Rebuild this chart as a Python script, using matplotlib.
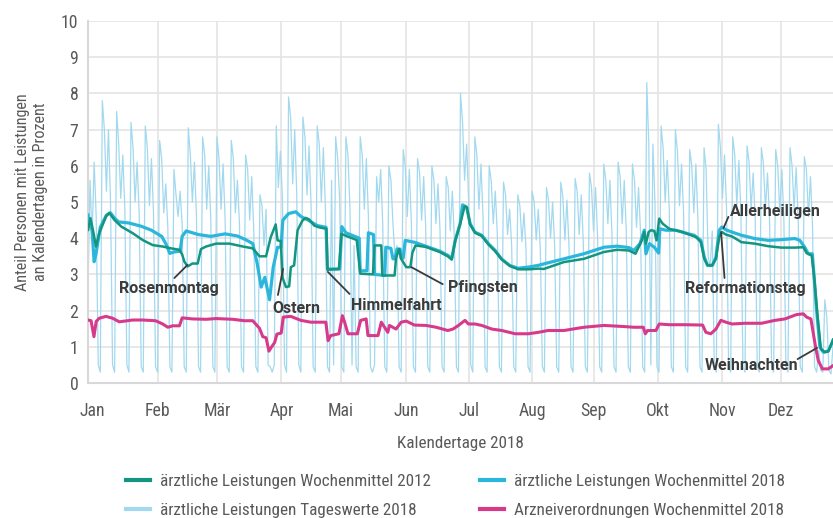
import matplotlib
matplotlib.use("Agg")
import matplotlib.pyplot as plt
from matplotlib import font_manager
import numpy as np

# fonts: pick a narrow face for axis text if one is installed
names = {f.name for f in font_manager.fontManager.ttflist}
base_font = "DejaVu Sans"
for cand in ["Liberation Sans Narrow", "Roboto Condensed", "Roboto", "Lato"]:
    if cand in names:
        base_font = cand
        break
bold_font = "Roboto" if "Roboto" in names else "DejaVu Sans"
plt.rcParams["font.family"] = [base_font, "DejaVu Sans"]

# region Data

# daily values 2018, one row per week (Mon..Sun), Jan 1 = Monday
daily_weeks = [
    [2.6, 5.6, 4.0, 6.1, 4.6, 0.5, 0.3],
    [7.8, 7.0, 5.3, 7.0, 5.0, 0.5, 0.3],
    [7.5, 6.6, 5.1, 6.3, 4.8, 0.5, 0.3],
    [7.2, 6.5, 5.0, 6.1, 4.7, 0.45, 0.3],
    [7.1, 6.5, 4.9, 6.2, 4.7, 0.45, 0.3],
    [6.7, 6.2, 4.7, 5.5, 4.3, 0.45, 0.3],
    [5.9, 5.2, 4.6, 5.3, 4.4, 0.45, 0.3],
    [7.05, 6.3, 5.0, 6.1, 4.6, 0.45, 0.3],
    [6.8, 6.3, 4.8, 6.0, 4.5, 0.45, 0.3],
    [6.8, 6.2, 4.8, 6.05, 4.5, 0.45, 0.3],
    [6.7, 6.2, 4.7, 5.6, 4.4, 0.45, 0.3],
    [6.3, 5.9, 4.5, 5.7, 4.2, 0.45, 0.3],
    [5.2, 4.9, 3.8, 4.8, 0.5, 0.45, 0.3],
    [0.5, 7.1, 5.4, 6.4, 5.1, 0.5, 0.3],
    [7.9, 7.35, 5.5, 7.0, 5.2, 0.5, 0.3],
    [7.35, 6.8, 5.2, 6.55, 4.9, 0.45, 0.3],
    [7.1, 6.6, 5.0, 6.5, 4.8, 0.45, 0.3],
    [5.6, 0.5, 6.8, 6.2, 5.0, 0.45, 0.3],
    [6.8, 6.3, 4.8, 0.5, 3.8, 0.45, 0.3],
    [6.8, 6.3, 4.8, 6.2, 4.6, 0.45, 0.3],
    [0.5, 5.7, 5.0, 5.9, 4.4, 0.45, 0.3],
    [6.0, 5.6, 4.4, 3.5, 3.8, 0.45, 0.3],
    [6.45, 6.0, 4.6, 5.9, 4.4, 0.45, 0.3],
    [6.2, 5.8, 4.5, 5.7, 4.3, 0.45, 0.3],
    [6.0, 5.6, 4.4, 5.5, 4.2, 0.45, 0.3],
    [5.7, 5.4, 4.2, 5.3, 4.0, 0.45, 0.3],
    [8.0, 7.2, 5.6, 6.6, 5.0, 0.5, 0.3],
    [6.8, 6.3, 4.8, 6.05, 4.6, 0.45, 0.3],
    [6.0, 5.6, 4.4, 5.3, 4.1, 0.45, 0.3],
    [5.55, 5.2, 4.1, 4.8, 3.8, 0.45, 0.3],
    [5.2, 4.9, 3.9, 4.7, 3.7, 0.45, 0.3],
    [5.3, 5.0, 3.95, 4.8, 3.7, 0.45, 0.3],
    [5.4, 5.05, 4.0, 5.0, 3.8, 0.45, 0.3],
    [5.55, 5.15, 3.95, 5.05, 3.8, 0.45, 0.3],
    [5.65, 5.3, 4.1, 5.2, 3.9, 0.45, 0.3],
    [5.8, 5.4, 4.2, 5.4, 4.0, 0.45, 0.3],
    [6.05, 5.6, 4.4, 5.6, 4.1, 0.45, 0.3],
    [6.1, 5.7, 4.4, 5.6, 4.2, 0.45, 0.3],
    [6.05, 5.6, 4.3, 5.4, 4.1, 0.45, 0.3],
    [8.3, 6.6, 0.5, 6.6, 5.0, 0.45, 0.3],
    [7.1, 6.5, 5.0, 6.15, 4.8, 0.45, 0.3],
    [7.0, 6.4, 4.9, 6.05, 4.7, 0.45, 0.3],
    [6.45, 6.0, 4.7, 6.05, 4.5, 0.45, 0.3],
    [6.5, 5.9, 3.5, 3.2, 4.2, 0.45, 0.3],
    [7.15, 6.5, 5.1, 6.3, 4.8, 0.45, 0.3],
    [6.8, 6.3, 4.9, 6.15, 4.7, 0.45, 0.3],
    [6.55, 6.1, 4.8, 5.8, 4.5, 0.45, 0.3],
    [6.5, 6.05, 4.8, 5.8, 4.5, 0.45, 0.3],
    [6.45, 6.0, 4.7, 5.9, 4.5, 0.45, 0.3],
    [6.5, 6.0, 4.8, 5.95, 4.5, 0.45, 0.3],
    [6.25, 5.9, 4.6, 5.7, 4.3, 0.45, 0.3],
    [0.9, 0.35, 0.3, 2.3, 1.8, 0.35, 0.25],
    [1.0],
]

# weekly means (day of year, value)
w2012_days = [0, 1.2, 2.5, 3.9, 5.5, 8.8, 10.4, 13, 16.3, 21.8, 26.7, 31.6, 36.5, 40.6, 44.7,
              46, 47.1, 48.7, 51, 53.6, 55.2, 57.7, 62.6, 69.1, 75.7, 80.5, 83.8, 87, 89.3,
              91.7, 92.6, 94.2, 95, 96.7, 98.3, 99.1, 100.7, 102.4, 104.8, 106.4, 108, 110.5,
              112.9, 116.5, 117, 122.6, 123.8, 126.7, 131.3, 133, 139.2, 140, 143.3, 143.8,
              149.8, 150.5, 152, 153, 155.5, 157.5, 158.5, 160, 165, 171.8, 175.8, 177.7,
              179.4, 181.8, 184, 185.1, 186.7, 189.1, 192.4, 195.6, 198.9, 202.2, 206.2,
              210.3, 215.2, 220.1, 222.7, 232.5, 242.3, 252.1, 258.6, 264.3, 267.5, 270.6,
              271.8, 272.6, 273.9, 275.1, 276.7, 277.8, 279.1, 280.8, 284, 290.5, 297.1,
              299.5, 301.1, 302.7, 304.9, 306.8, 308.4, 309.7, 311.7, 314.6, 319.3, 325.8,
              332.3, 338.8, 345.4, 349.5, 351.1, 353.6, 354.8, 356.5, 358.1, 360.1, 361.7,
              363.6, 364]
w2012_vals = [4.23, 4.55, 4.2, 3.77, 4.14, 4.6, 4.7, 4.5, 4.32, 4.14, 3.95, 3.81, 3.77, 3.72, 3.68,
              3.55, 3.35, 3.22, 3.3, 3.3, 3.7, 3.77, 3.85, 3.85, 3.77, 3.72, 3.5, 3.5, 4.03,
              4.38, 3.94, 3.92, 2.92, 2.65, 2.67, 3.2, 3.25, 4.22, 4.49, 4.56, 4.52, 4.35,
              4.3, 4.26, 3.13, 3.15, 4.12, 4.05, 3.95, 3.02, 3.0, 3.8, 3.8, 2.97,
              2.97, 3.45, 3.7, 3.43, 3.2, 3.2, 3.6, 3.8, 3.76, 3.62, 3.5, 3.41,
              3.92, 4.38, 4.88, 4.85, 4.38, 4.15, 4.06, 3.83, 3.64, 3.41, 3.23,
              3.14, 3.14, 3.16, 3.15, 3.34, 3.43, 3.62, 3.68, 3.66, 3.57, 3.94,
              4.17, 3.85, 4.17, 4.22, 4.2, 3.94, 4.54, 4.4, 4.26, 4.17, 4.03,
              3.89, 3.43, 3.25, 3.25, 3.43, 4.03, 4.17, 4.1, 4.05, 3.89, 3.85,
              3.78, 3.74, 3.74, 3.75, 3.59, 3.52, 2.92, 1.82, 0.94, 0.85, 0.87,
              1.13, 1.2]

w2018_days = [0, 2, 3, 4, 6, 9, 11, 13, 15, 20, 26, 31, 36, 38, 40, 42, 45, 46, 48, 54, 60, 67,
              73, 77, 80.5, 82.7, 84.6, 86.4, 88.7, 90.5, 92.6, 94.3, 95.2, 98, 101.5, 104,
              107.5, 112, 116.3, 117, 123, 124, 126, 132.5, 133, 136.3, 137, 139.5, 140, 145,
              145.5, 148, 149, 150, 151, 152.5, 153, 154, 155, 160, 165, 172, 176, 177.7,
              179.4, 181.8, 183, 185, 186.7, 189, 192.4, 195.6, 199, 202, 206, 210, 215, 220,
              222.7, 232.5, 242.3, 252.1, 258.6, 264.3, 266.7, 269.7, 271.8, 272.6, 274.3,
              276.7, 278.8, 279.4, 282.4, 287.2, 292.1, 296.2, 299.4, 301.1, 302.7, 305.1,
              306.8, 308.4, 309.7, 311.7, 314.6, 319.3, 325.8, 332.3, 338.8, 345.4, 347.8,
              350.3, 351.9, 353.9, 354.8, 356, 357.6, 359.3, 361.7, 363.3, 364]
w2018_vals = [4.64, 4.2, 3.35, 3.6, 4.3, 4.64, 4.7, 4.55, 4.45, 4.42, 4.33, 4.22, 4.05, 3.85,
              3.58, 3.62, 3.64, 4.05, 4.2, 4.1, 4.05, 4.12, 4.06, 3.96, 3.85, 3.29, 2.65, 2.92,
              2.3, 3.2, 3.75, 3.75, 4.5, 4.68, 4.73, 4.6, 4.5, 4.35, 4.3, 3.15, 3.15, 4.32,
              4.15, 4.0, 3.1, 3.1, 4.15, 4.1, 3.0, 2.97, 3.75, 3.72, 3.43, 3.43, 3.7, 3.7,
              3.45, 3.45, 3.94, 3.88, 3.78, 3.64, 3.52, 3.43, 3.94, 4.4, 4.92, 4.86, 4.4,
              4.17, 4.08, 3.85, 3.66, 3.43, 3.25, 3.17, 3.2, 3.25, 3.29, 3.43, 3.57, 3.75,
              3.78, 3.74, 3.66, 3.85, 4.22, 3.57, 3.85, 3.75, 3.59, 4.26, 4.22, 4.22, 4.14,
              4.08, 3.94, 3.48, 3.25, 3.25, 3.48, 4.22, 4.31, 4.23, 4.17, 4.08, 3.99, 3.94,
              3.96, 3.99, 3.94, 3.74, 3.57, 3.57, 2.92, 2.0, 0.99, 0.85, 0.89, 1.08, 1.17]

arznei_days = [0, 1.5, 2.9, 4, 5.5, 8.8, 12, 15.3, 21.8, 26.7, 33, 36.5, 39, 41.4, 44.7, 46, 51,
               57.7, 62.6, 70.7, 76.5, 80.5, 83.8, 85.4, 87, 88.4, 89.5, 91.2, 92.3, 94.4, 95.4,
               99.1, 104, 108.9, 116.2, 117.3, 118.6, 122.6, 124.3, 125.4, 127, 131.6, 133.2,
               135.9, 136.8, 141.7, 143.3, 144.9, 146.5, 147.3, 150.5, 153, 155.5, 159.5, 165.2,
               170.1, 175.8, 178.3, 181, 184.2, 185.9, 189.1, 192.4, 197.3, 202.2, 208.7, 215.2,
               220.1, 224.7, 232.5, 242.3, 252.1, 261.8, 266.7, 270.2, 271.3, 272.3, 273.4,
               277.5, 279.1, 284, 292.1, 300.3, 301.9, 304.3, 306.8, 309.2, 311.7, 314.6, 321,
               329.1, 335.6, 340.5, 346.2, 349.5, 351.1, 353.2, 355.5, 356.8, 358.8, 361.7, 364]
arznei_vals = [1.74, 1.72, 1.28, 1.7, 1.79, 1.84, 1.79, 1.69, 1.74, 1.74, 1.72, 1.63, 1.54, 1.58,
               1.58, 1.8, 1.77, 1.76, 1.78, 1.76, 1.72, 1.72, 1.51, 1.28, 1.25, 0.88, 0.98, 1.12,
               1.35, 1.38, 1.82, 1.84, 1.73, 1.68, 1.68, 1.17, 1.31, 1.36, 1.86, 1.68, 1.36,
               1.36, 1.73, 1.77, 1.31, 1.31, 1.68, 1.54, 1.4, 1.59, 1.49, 1.68, 1.71, 1.6,
               1.59, 1.54, 1.45, 1.49, 1.59, 1.73, 1.63, 1.63, 1.59, 1.49, 1.45, 1.36, 1.36,
               1.4, 1.45, 1.45, 1.54, 1.59, 1.56, 1.54, 1.54, 1.54, 1.36, 1.45, 1.45, 1.63,
               1.61, 1.61, 1.6, 1.4, 1.36, 1.49, 1.73, 1.68, 1.63, 1.65, 1.65, 1.73, 1.77,
               1.89, 1.91, 1.82, 1.77, 0.99, 0.62, 0.39, 0.39, 0.48]

month_labels = ["Jan", "Feb", "Mär", "Apr", "Mai", "Jun", "Jul", "Aug", "Sep", "Okt", "Nov", "Dez"]
month_ticks = [2, 34, 63, 94.5, 123.5, 155.5, 186, 217, 247, 278.5, 310, 338.5]

# holiday labels: text, text position, line start, line end (day, value)
holidays = [
    ("Rosenmontag", (39.3, 2.6), (42.2, 2.9), (48.6, 3.26)),
    ("Ostern", (101.9, 2.07), (92.8, 2.43), (95.3, 3.15)),
    ("Himmelfahrt", (150.8, 2.13), (127.8, 2.46), (117.2, 3.07)),
    ("Pfingsten", (193.0, 2.65), (173.3, 2.73), (158.0, 3.2)),
    ("Allerheiligen", (335.8, 4.75), (312.9, 4.59), (310.5, 4.28)),
    ("Reformationstag", (321.1, 2.62), (311.0, 2.9), (309.3, 4.17)),
    ("Weihnachten", (324.0, 0.47), (346.7, 0.66), (356.2, 0.97)),
]

# endregion

daily = [v for week in daily_weeks for v in week]
days = np.arange(len(daily))

c2012 = "#14957f"
c2018 = "#2cb6db"
cdaily = "#a2d9ef"
carz = "#d83a8b"
grid_c = "#e2e2e2"
text_c = "#595959"
fs = 12.3

fig = plt.figure(figsize=(8.33, 5.18), dpi=100)
ax = fig.add_axes([88 / 833, 1 - 383 / 518, 1 - 88 / 833, (383 - 21) / 518])

ax.plot(days, daily, color=cdaily, lw=0.9, label="ärztliche Leistungen Tageswerte 2018", zorder=2)
ax.plot(w2018_days, w2018_vals, color=c2018, lw=2.3, label="ärztliche Leistungen Wochenmittel 2018", zorder=3)
ax.plot(w2012_days, w2012_vals, color=c2012, lw=1.8, label="ärztliche Leistungen Wochenmittel 2012", zorder=4)
ax.plot(arznei_days, arznei_vals, color=carz, lw=2.2, label="Arzneiverordnungen Wochenmittel 2018", zorder=5)

ax.set_xlim(0, 364)
ax.set_ylim(0, 10)
ax.set_yticks(range(0, 11))
ax.set_xticks(month_ticks)
ax.set_xticklabels(month_labels)
ax.grid(True, color=grid_c, lw=1.1, zorder=0)
ax.set_axisbelow(True)
ax.xaxis.get_gridlines()[0].set_visible(False)
for side in ["top", "right"]:
    ax.spines[side].set_visible(False)
for side in ["left", "bottom"]:
    ax.spines[side].set_color("#d8d8d8")
    ax.spines[side].set_linewidth(1.5)
ax.tick_params(length=0, labelsize=fs + 0.5, colors=text_c)
ax.tick_params(axis="x", pad=14)
ax.tick_params(axis="y", pad=7)

ax.set_xlabel("Kalendertage 2018", fontsize=fs, color=text_c, labelpad=11)
ax.set_ylabel("Anteil Personen mit Leistungen\nan Kalendertagen in Prozent", fontsize=11.6,
              color=text_c, labelpad=9, linespacing=1.3, y=0.528)

for name, tpos, p0, p1 in holidays:
    ax.annotate("", xy=p1, xytext=p0,
                arrowprops=dict(arrowstyle="-", color="#3b3b3b", lw=1.3, shrinkA=0, shrinkB=0),
                zorder=6)
    ax.text(tpos[0], tpos[1], name, ha="center", va="center", fontsize=11.5,
            fontweight="bold", family=[bold_font, "DejaVu Sans"], color="#3b3b3b", zorder=7)

handles, labels = ax.get_legend_handles_labels()
order = [2, 0, 1, 3]
leg = fig.legend([handles[i] for i in order], [labels[i] for i in order],
                 loc="upper left", bbox_to_anchor=(126 / 833, 1 - 474 / 518), ncol=2,
                 frameon=False, fontsize=fs, handlelength=1.4, handletextpad=0.6,
                 columnspacing=2.85, labelspacing=0.8, borderaxespad=0, borderpad=0)
for t in leg.get_texts():
    t.set_color(text_c)
for h in leg.get_lines():
    h.set_linewidth(3)

fig.savefig("out.png", dpi=100)
